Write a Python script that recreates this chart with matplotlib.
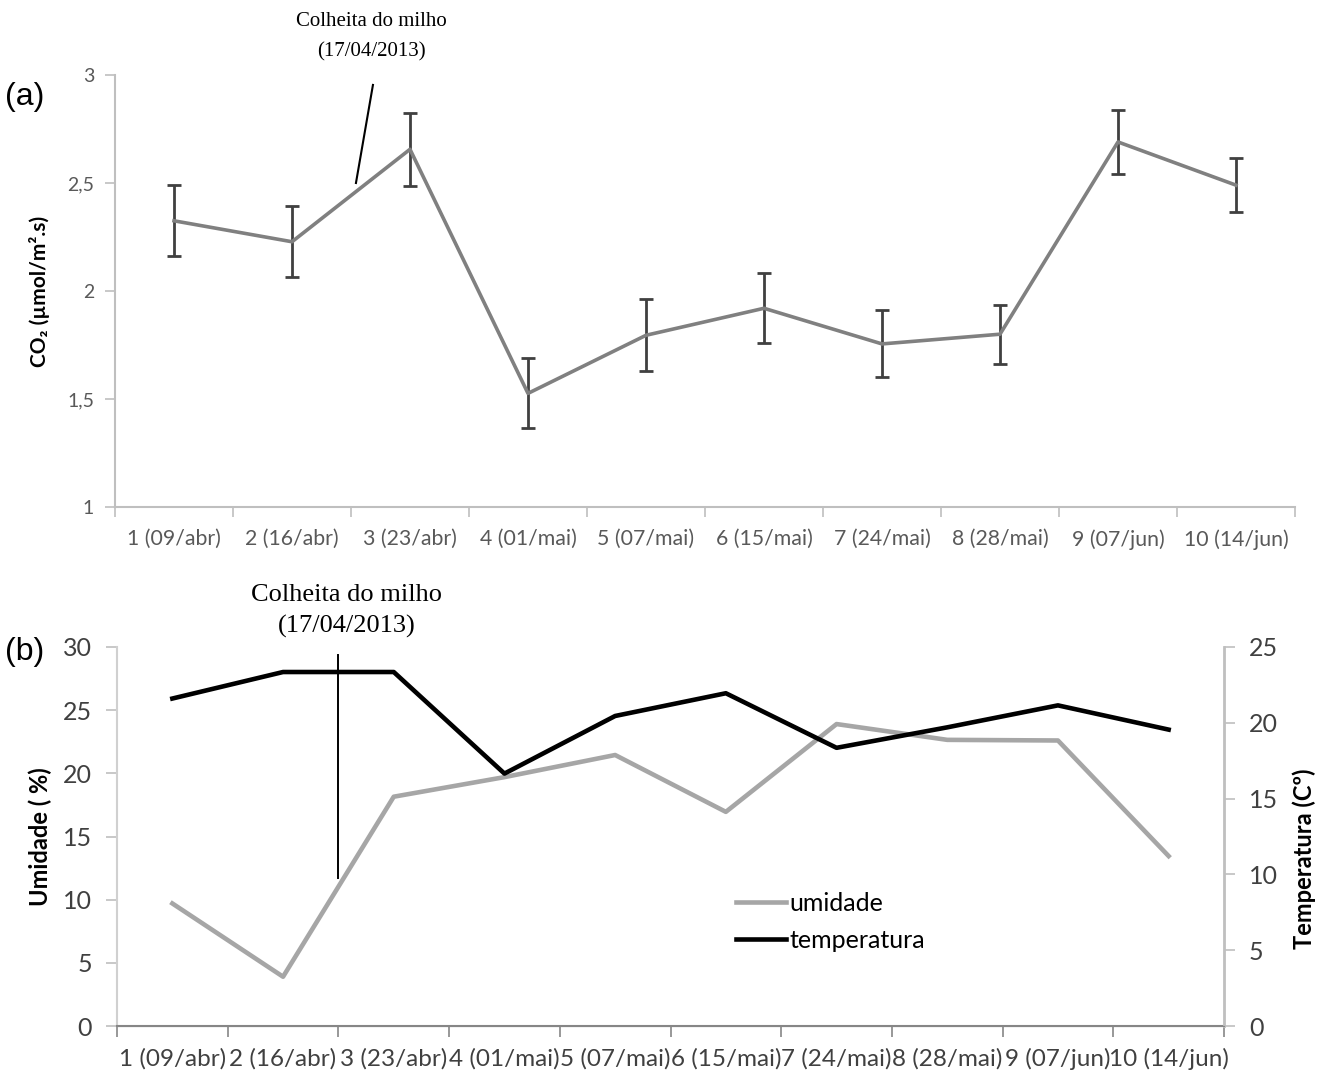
import numpy as np
import matplotlib
matplotlib.use("Agg")
import matplotlib.pyplot as plt

categorias = ["1 (09/abr)", "2 (16/abr)", "3 (23/abr)", "4 (01/mai)", "5 (07/mai)",
              "6 (15/mai)", "7 (24/mai)", "8 (28/mai)", "9 (07/jun)", "10 (14/jun)"]

co2 = [2.325, 2.228, 2.656, 1.526, 1.795, 1.92, 1.755, 1.80, 2.69, 2.49]
co2_erro = [0.165, 0.165, 0.168, 0.162, 0.166, 0.163, 0.155, 0.137, 0.148, 0.125]

umidade = [9.7, 3.9, 18.15, 19.7, 21.45, 16.95, 23.9, 22.65, 22.6, 13.45]
temperatura = [21.6, 23.35, 23.35, 16.65, 20.45, 21.95, 18.35, 19.7, 21.15, 19.55]

co2_ticks = [1, 1.5, 2, 2.5, 3]
co2_ticklabels = ["1", "1,5", "2", "2,5", "3"]

sans = ["Lato", "DejaVu Sans"]
x = np.arange(len(categorias))

fig = plt.figure(figsize=(13.17, 10.84), dpi=100)

# (a) CO2
ax1 = fig.add_axes([115 / 1317, 1 - 507 / 1084, 1180 / 1317, 432 / 1084])
ax1.errorbar(x, co2, yerr=co2_erro, color="#808080", lw=2.6,
             ecolor="#404040", elinewidth=2, capsize=5, capthick=2)
ax1.set_xlim(-0.5, 9.5)
ax1.set_ylim(1, 3)
ax1.set_xticks(x)
ax1.set_xticklabels(categorias, family=sans, fontsize=15.3, color="#595959")
ax1.set_xticks(np.arange(-0.5, 10, 1), minor=True)
ax1.tick_params(axis="x", which="major", length=0, pad=16)
ax1.tick_params(axis="x", which="minor", length=7, color="#bfbfbf", width=1.2)
ax1.set_yticks(co2_ticks)
ax1.set_yticklabels(co2_ticklabels, family=sans, fontsize=14, color="#595959")
ax1.tick_params(axis="y", length=7, color="#bfbfbf", width=1.2, pad=8)
for s in ["top", "right"]:
    ax1.spines[s].set_visible(False)
for s in ["left", "bottom"]:
    ax1.spines[s].set_color("#bfbfbf")
    ax1.spines[s].set_linewidth(1.5)
ax1.set_ylabel("CO₂ (µmol/m².s)", family=sans, fontsize=15, fontweight="bold", labelpad=12)
ax1.plot([1.686, 1.542], [2.954, 2.5], color="black", lw=1.5, clip_on=False)

fig.text(5 / 1317, 1 - 97 / 1084, "(a)", family="Liberation Sans", fontsize=23, va="center")
fig.text(371 / 1317, 1 - 37 / 1084, "Colheita do milho\n(17/04/2013)", family="Liberation Serif",
         fontsize=15, ha="center", va="center", linespacing=1.8)

# (b) umidade e temperatura
ax2 = fig.add_axes([117 / 1317, 1 - 1026 / 1084, 1107 / 1317, 379 / 1084])
ax3 = ax2.twinx()
l1, = ax2.plot(x, umidade, color="#a6a6a6", lw=3.3, label="umidade")
l2, = ax3.plot(x, temperatura, color="black", lw=3.3, label="temperatura")
ax2.plot([1.5, 1.5], [11.7, 29.4], color="black", lw=1.4)
ax2.set_xlim(-0.5, 9.5)
ax2.set_ylim(0, 30)
ax3.set_ylim(0, 25)
ax2.set_yticks(np.arange(0, 31, 5))
ax3.set_yticks(np.arange(0, 26, 5))
ax2.set_xticks(x)
ax2.set_xticklabels(categorias, family=sans, fontsize=17.5, color="#404040")
ax2.set_xticks(np.arange(-0.5, 10, 1), minor=True)
ax2.tick_params(axis="x", which="major", length=0, pad=16)
ax2.tick_params(axis="x", which="minor", length=8, color="#868686", width=1.2)
for a in (ax2, ax3):
    for lab in a.get_yticklabels():
        lab.set_family(sans)
        lab.set_fontsize(18)
        lab.set_color("#404040")
    a.tick_params(axis="y", length=8, color="#bfbfbf", width=1.2, pad=10)
    a.spines["top"].set_visible(False)
ax2.spines["left"].set_color("#d0d0d0")
ax2.spines["left"].set_linewidth(1.5)
ax3.spines["right"].set_color("#bfbfbf")
ax3.spines["right"].set_linewidth(2)
ax2.spines["bottom"].set_color("#868686")
ax2.spines["bottom"].set_linewidth(1.5)
ax3.spines["bottom"].set_color("#868686")
ax3.spines["left"].set_visible(False)
ax2.spines["right"].set_visible(False)
ax2.set_ylabel("Umidade ( %)", family=sans, fontsize=17, fontweight="bold", labelpad=8)
ax3.set_ylabel("Temperatura (Cº)", family=sans, fontsize=17, fontweight="bold", labelpad=12)
ax3.yaxis.set_label_coords(1.062, 0.44)

fig.legend(handles=[l1, l2], loc="upper left", bbox_to_anchor=(736 / 1317, 1 - 892 / 1084),
           frameon=False, handlelength=2.0, handletextpad=0.15, labelspacing=0.55,
           borderpad=0, borderaxespad=0, prop={"family": sans, "size": 18})

fig.text(5 / 1317, 1 - 652 / 1084, "(b)", family="Liberation Sans", fontsize=23, va="center")
fig.text(347 / 1317, 1 - 611 / 1084, "Colheita do milho\n(17/04/2013)", family="Liberation Serif",
         fontsize=19, ha="center", va="center", linespacing=1.55)

fig.savefig("out.png", dpi=100)
